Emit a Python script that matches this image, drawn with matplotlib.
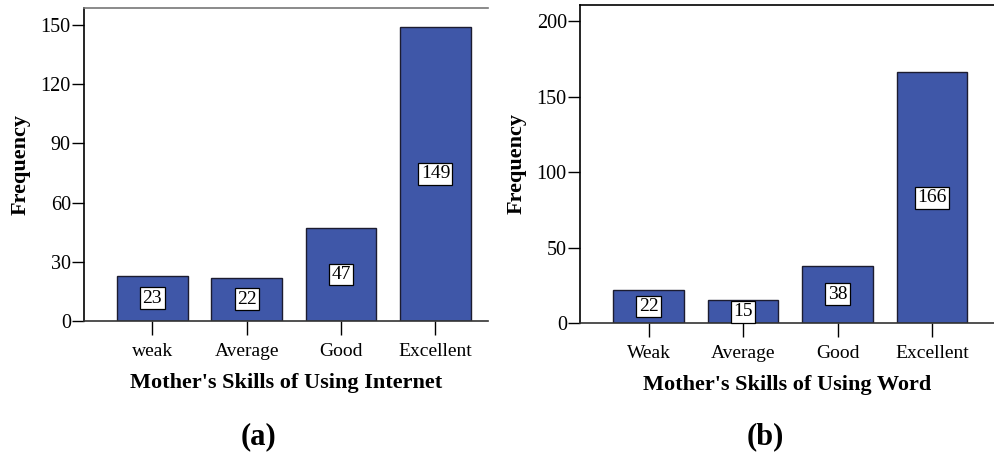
import matplotlib
matplotlib.use("Agg")
import matplotlib.pyplot as plt

categories_a = ["weak", "Average", "Good", "Excellent"]
values_a = [23, 22, 47, 149]
yticks_a = [0, 30, 60, 90, 120, 150]

categories_b = ["Weak", "Average", "Good", "Excellent"]
values_b = [22, 15, 38, 166]
yticks_b = [0, 50, 100, 150, 200]

xlabel_a = "Mother's Skills of Using Internet"
xlabel_b = "Mother's Skills of Using Word"

plt.rcParams['font.family'] = ['Liberation Serif', 'DejaVu Serif']

W, H = 994, 458
fig = plt.figure(figsize=(W / 100, H / 100), dpi=100)

bar_color = "#3F57A8"

def px_axes(x0, x1, y0, y1):
    return fig.add_axes([x0 / W, 1 - y1 / H, (x1 - x0) / W, (y1 - y0) / H])

def draw(ax, cats, vals, yticks, ylim_top, xlim, top_color, xlabel):
    x = list(range(len(cats)))
    ax.bar(x, vals, width=0.75, color=bar_color, edgecolor="#1c1c30", linewidth=1.0, zorder=2)
    for xi, v in zip(x, vals):
        ax.text(xi, v / 2, str(v), ha="center", va="center", fontsize=14, zorder=3,
                bbox=dict(boxstyle="square,pad=0.12", facecolor="white", edgecolor="black", linewidth=0.9))
    ax.set_xlim(*xlim)
    ax.set_ylim(0, ylim_top)
    ax.set_yticks(yticks)
    ax.set_xticks(x)
    ax.set_xticklabels(cats)
    ax.spines["right"].set_visible(False)
    ax.spines["top"].set_color(top_color)
    ax.spines["top"].set_linewidth(1.2)
    ax.spines["left"].set_linewidth(1.2)
    ax.spines["bottom"].set_linewidth(1.2)
    ax.spines["bottom"].set_color("#333333")
    ax.tick_params(axis="y", direction="out", length=9, width=1.0, pad=0.5, labelsize=14.5)
    ax.tick_params(axis="x", direction="out", length=10, width=1.0, pad=6, labelsize=14)
    ax.set_ylabel("Frequency", fontsize=16, fontweight="bold", labelpad=7)
    ax.set_xlabel(xlabel, fontsize=16, fontweight="bold", labelpad=9)

ax1 = px_axes(84, 488, 8, 321)
draw(ax1, categories_a, values_a, yticks_a, 158.6, (-0.725, 3.557), "#777777", xlabel_a)

ax2 = px_axes(580, 994, 5, 323)
draw(ax2, categories_b, values_b, yticks_b, 210.6, (-0.725, 3.656), "black", xlabel_b)

fig.text(258 / W, 1 - 437 / H, "(a)", ha="center", va="center", fontsize=22, fontweight="bold")
fig.text(765 / W, 1 - 437 / H, "(b)", ha="center", va="center", fontsize=22, fontweight="bold")

fig.savefig("out.png", dpi=100)
